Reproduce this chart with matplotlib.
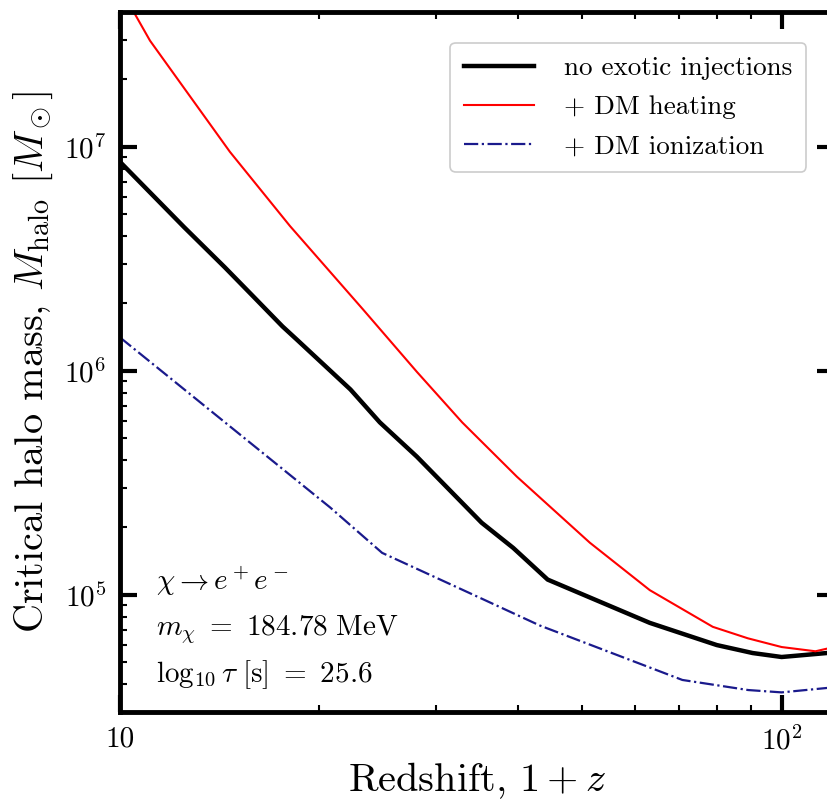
import matplotlib
matplotlib.use('Agg')
import matplotlib.pyplot as plt
from matplotlib.ticker import FixedLocator, LogLocator, NullFormatter

plt.rcParams['font.family'] = 'serif'
plt.rcParams['font.serif'] = ['cmr10']
plt.rcParams['mathtext.fontset'] = 'cm'
plt.rcParams['axes.unicode_minus'] = False
plt.rcParams['axes.formatter.use_mathtext'] = True

# critical halo mass vs 1+z
z_base = [10, 12.5, 14.4, 15.9, 17.6, 18.5, 22.3, 24.7, 28.1, 35.2, 39.3, 44.3, 63.2, 79.8, 90.4, 100, 117, 120]
m_base = [8.57e6, 4.38e6, 2.9e6, 2.15e6, 1.58e6, 1.38e6, 8.26e5, 5.89e5, 4.14e5, 2.1e5, 1.62e5, 1.17e5,
          7.5e4, 5.97e4, 5.5e4, 5.28e4, 5.5e4, 5.55e4]

z_heat = [10, 10.46, 11.1, 14.66, 18.07, 23.3, 28.1, 32.9, 39.8, 51.3, 63.2, 78.7, 88.9, 100, 112.5, 117, 120]
m_heat = [5.2e7, 4.06e7, 2.98e7, 9.5e6, 4.43e6, 1.88e6, 9.9e5, 5.89e5, 3.37e5, 1.71e5, 1.05e5, 7.2e4,
          6.4e4, 5.85e4, 5.6e4, 5.75e4, 5.8e4]

z_ion = [10, 20.8, 23.0, 24.9, 35.0, 43.1, 70.8, 89.0, 100, 117, 120]
m_ion = [1.41e6, 2.45e5, 1.89e5, 1.54e5, 9.7e4, 7.3e4, 4.17e4, 3.76e4, 3.67e4, 3.84e4, 3.86e4]

fig = plt.figure(figsize=(8.28, 8.01), dpi=100)
ax = fig.add_axes([120/828, 89/801, 714/828, 700/801])

ax.plot(z_base, m_base, color='black', lw=3.2, label='no exotic injections')
ax.plot(z_heat, m_heat, color='red', lw=1.5, label='+ DM heating')
ax.plot(z_ion, m_ion, color='#1a1a8c', lw=1.6, ls='-.', label='+ DM ionization')

ax.set_xscale('log')
ax.set_yscale('log')
ax.set_xlim(10, 120)
ax.set_ylim(3e4, 4e7)

ax.xaxis.set_major_locator(FixedLocator([10, 100]))
ax.set_xticklabels(['10', r'$10^2$'])
ax.xaxis.set_minor_locator(LogLocator(base=10, subs=range(2, 10)))
ax.xaxis.set_minor_formatter(NullFormatter())
ax.yaxis.set_major_locator(FixedLocator([1e5, 1e6, 1e7]))
ax.set_yticklabels([r'$10^5$', r'$10^6$', r'$10^7$'])
ax.yaxis.set_minor_locator(LogLocator(base=10, subs=range(2, 10)))
ax.yaxis.set_minor_formatter(NullFormatter())

ax.tick_params(which='both', direction='in', top=True, right=True, labelsize=21)
ax.tick_params(which='major', length=12, width=3, pad=10)
ax.tick_params(which='minor', length=5, width=1.5)
for s in ax.spines.values():
    s.set_linewidth(3.5)

ax.set_xlabel(r'Redshift, $1+z$', fontsize=29, labelpad=4)
ax.set_ylabel(r'Critical halo mass, $M_{\rm halo}$ $[M_\odot]$', fontsize=29, labelpad=6)

ax.text(0.05, 0.187, r'$\chi \to e^+e^-$', transform=ax.transAxes, fontsize=21, va='center')
ax.text(0.05, 0.117, r'$m_\chi\ =\ 184.78\ \mathrm{MeV}$', transform=ax.transAxes, fontsize=21, va='center')
ax.text(0.05, 0.054, r'$\log_{10}\tau\ [\mathrm{s}]\ =\ 25.6$', transform=ax.transAxes, fontsize=21, va='center')

leg = ax.legend(loc='upper right', bbox_to_anchor=(1 - 28/714, 1 - 31/700), borderaxespad=0,
                fontsize=19.5, handlelength=2.6, framealpha=1, fancybox=True, borderpad=0.5,
                labelspacing=0.55, handletextpad=1.1)
leg.get_frame().set_edgecolor('#cccccc')
leg.get_frame().set_linewidth(1.2)

fig.savefig('out.png', dpi=100)
